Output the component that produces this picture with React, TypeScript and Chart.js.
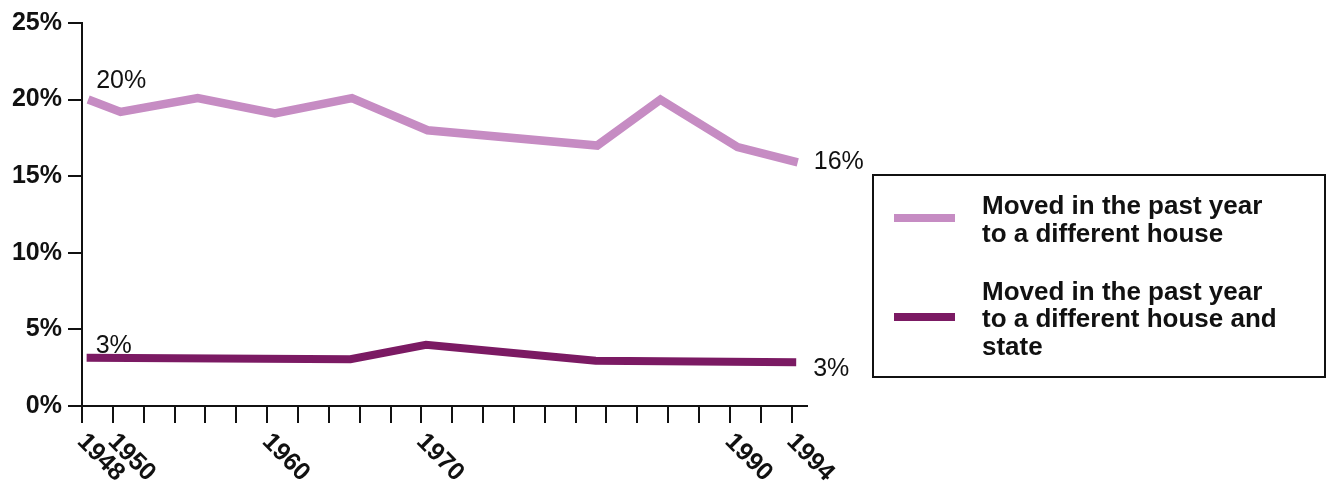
import React, { useEffect, useRef } from 'react';
import { Chart, registerables } from 'chart.js';

Chart.register(...registerables);

// ---- data ----
const HOUSE_YEARS = [1948.4, 1950.5, 1955.5, 1960.5, 1965.5, 1970.4, 1981.4, 1985.5, 1990.5, 1994.4];
const HOUSE_VALUES = [20.0, 19.2, 20.1, 19.1, 20.1, 18.0, 17.0, 20.0, 16.9, 15.9];

const STATE_YEARS = [1948.3, 1965.4, 1970.3, 1981.3, 1994.3];
const STATE_VALUES = [3.15, 3.05, 4.0, 2.95, 2.85];

const SERIES_NAMES = [
  'Moved in the past year\nto a different house',
  'Moved in the past year\nto a different house and\nstate',
];

const TICK_YEARS = [
  1948, 1950, 1952, 1954, 1956, 1958, 1960, 1962, 1964, 1966, 1968, 1970,
  1972, 1974, 1976, 1978, 1980, 1982, 1984, 1986, 1988, 1990, 1992, 1994,
];
const LABELED_YEARS = [1948, 1950, 1960, 1970, 1990, 1994];
const Y_TICKS = [0, 5, 10, 15, 20, 25];

// ---- styles ----
const FONT = '"Liberation Sans", Arial, Helvetica, sans-serif';
const LIGHT = '#c68cc3';
const DARK = '#7b1a63';
const SERIES_STYLE = [
  { color: LIGHT, startDx: 8, startDy: -12, endDx: 16, endDy: 7, legendY: 218 },
  { color: DARK, startDx: 9, startDy: -5, endDx: 17, endDy: 14, legendY: 317 },
];

const annotations = {
  id: 'annotations',
  afterDraw(chart: any) {
    const ctx = chart.ctx as CanvasRenderingContext2D;
    const xs = chart.scales.x;
    const area = chart.chartArea;
    ctx.save();

    // rotated year labels
    ctx.fillStyle = '#111';
    ctx.font = `bold 25px ${FONT}`;
    ctx.textAlign = 'left';
    ctx.textBaseline = 'middle';
    LABELED_YEARS.forEach((yr) => {
      const px = xs.getPixelForValue(yr);
      ctx.save();
      ctx.translate(px - 1, area.bottom + 32);
      ctx.rotate((45 * Math.PI) / 180);
      ctx.fillText(String(yr), 0, 0);
      ctx.restore();
    });

    // start / end value labels
    ctx.font = `25px ${FONT}`;
    ctx.textBaseline = 'alphabetic';
    chart.data.datasets.forEach((ds: any, i: number) => {
      const meta = chart.getDatasetMeta(i);
      const st = SERIES_STYLE[i];
      const pts = meta.data;
      const first = pts[0];
      const last = pts[pts.length - 1];
      const v0 = ds.data[0].y;
      const v1 = ds.data[ds.data.length - 1].y;
      ctx.fillText(Math.round(v0) + '%', first.x + st.startDx, first.y + st.startDy);
      ctx.fillText(Math.round(v1) + '%', last.x + st.endDx, last.y + st.endDy);
    });

    // legend box
    const boxLeft = area.right + 66;
    const boxTop = 175;
    const boxRight = chart.width - 1;
    const boxBottom = 377;
    ctx.strokeStyle = '#111';
    ctx.lineWidth = 2;
    ctx.strokeRect(boxLeft, boxTop, boxRight - boxLeft, boxBottom - boxTop);

    ctx.font = `bold 26px ${FONT}`;
    ctx.fillStyle = '#111';
    const lineH = 27.5;
    chart.data.datasets.forEach((ds: any, i: number) => {
      const st = SERIES_STYLE[i];
      const cy = st.legendY;
      ctx.strokeStyle = ds.borderColor;
      ctx.lineWidth = 8;
      ctx.lineCap = 'butt';
      ctx.beginPath();
      ctx.moveTo(boxLeft + 21, cy);
      ctx.lineTo(boxLeft + 82, cy);
      ctx.stroke();
      const lines = String(ds.label).split('\n');
      const firstBase = cy - ((lines.length - 1) * lineH) / 2 + 10;
      lines.forEach((ln, k) => {
        ctx.fillText(ln, boxLeft + 109, firstBase + k * lineH);
      });
    });

    ctx.restore();
  },
};

export default function App() {
  const ref = useRef<HTMLCanvasElement | null>(null);

  useEffect(() => {
    if (!ref.current) return;
    const chart = new Chart(ref.current, {
      type: 'line',
      data: {
        datasets: [
          {
            label: SERIES_NAMES[0],
            data: HOUSE_YEARS.map((x, i) => ({ x, y: HOUSE_VALUES[i] })),
            borderColor: SERIES_STYLE[0].color,
            borderWidth: 8.5,
            pointRadius: 0,
            tension: 0,
            borderJoinStyle: 'miter',
            borderCapStyle: 'butt',
          },
          {
            label: SERIES_NAMES[1],
            data: STATE_YEARS.map((x, i) => ({ x, y: STATE_VALUES[i] })),
            borderColor: SERIES_STYLE[1].color,
            borderWidth: 8,
            pointRadius: 0,
            tension: 0,
            borderJoinStyle: 'miter',
            borderCapStyle: 'butt',
          },
        ],
      },
      options: {
        animation: false,
        responsive: false,
        devicePixelRatio: 1,
        layout: { padding: { top: 23, right: 519, bottom: 0, left: 0 } },
        plugins: {
          legend: { display: false },
          tooltip: { enabled: false },
        },
        scales: {
          x: {
            type: 'linear',
            min: 1948,
            max: 1995,
            afterBuildTicks: (s: any) => {
              s.ticks = TICK_YEARS.map((v) => ({ value: v }));
            },
            afterFit: (s: any) => {
              s.height = 78;
            },
            ticks: { display: false },
            grid: {
              drawOnChartArea: false,
              drawTicks: true,
              tickLength: 17,
              color: '#111',
              lineWidth: 2,
            },
            border: { display: true, color: '#111', width: 2 },
          },
          y: {
            type: 'linear',
            min: 0,
            max: 25,
            afterBuildTicks: (s: any) => {
              s.ticks = Y_TICKS.map((v) => ({ value: v }));
            },
            afterFit: (s: any) => {
              s.width = 82;
            },
            ticks: {
              callback: (v: any) => v + '%',
              color: '#111',
              padding: 6,
              font: { family: FONT, size: 25, weight: 'bold' },
            },
            grid: {
              drawOnChartArea: false,
              drawTicks: true,
              tickLength: 14,
              color: '#111',
              lineWidth: 2,
            },
            border: { display: true, color: '#111', width: 2 },
          },
        },
      },
      plugins: [annotations],
    } as any);
    return () => chart.destroy();
  }, []);

  return (
    <div style={{ position: 'absolute', left: 0, top: 0, width: 1326, height: 484, background: '#fff' }}>
      <canvas ref={ref} width={1326} height={484} style={{ display: 'block' }} />
    </div>
  );
}
